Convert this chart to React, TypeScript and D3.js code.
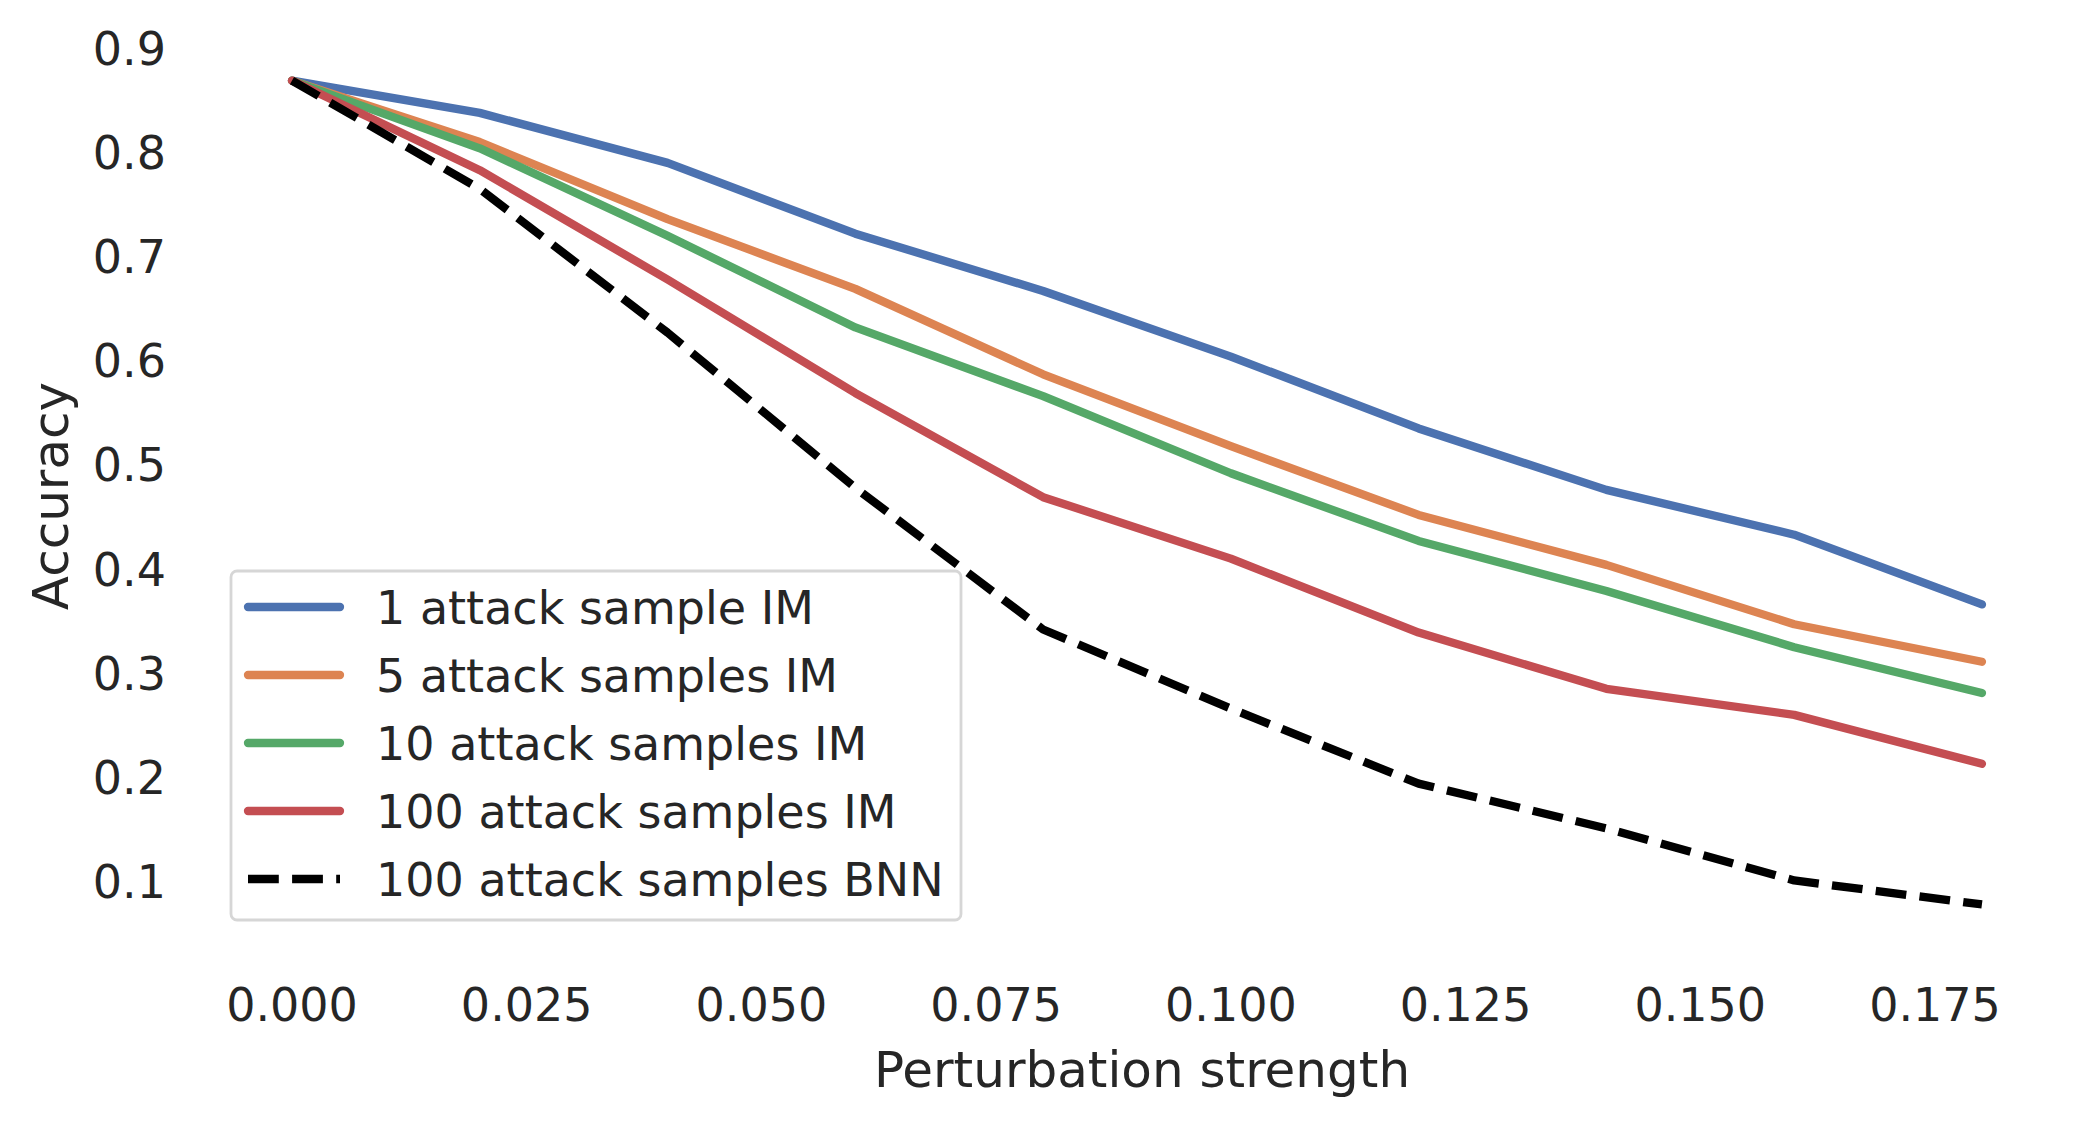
import React from "react";
import * as d3 from "d3";

const strengths: number[] = [0, 0.02, 0.04, 0.06, 0.08, 0.1, 0.12, 0.14, 0.16, 0.18];

const oneSampleIM: number[] = [0.869, 0.838, 0.79, 0.722, 0.667, 0.604, 0.535, 0.476, 0.433, 0.366];
const fiveSamplesIM: number[] = [0.869, 0.81, 0.736, 0.669, 0.587, 0.518, 0.452, 0.404, 0.347, 0.311];
const tenSamplesIM: number[] = [0.869, 0.804, 0.72, 0.632, 0.566, 0.492, 0.427, 0.379, 0.325, 0.281];
const hundredSamplesIM: number[] = [0.869, 0.783, 0.678, 0.569, 0.469, 0.41, 0.339, 0.285, 0.26, 0.213];
const hundredSamplesBNN: number[] = [0.869, 0.765, 0.627, 0.478, 0.342, 0.266, 0.194, 0.151, 0.101, 0.078];

const seriesNames: string[] = [
  "1 attack sample IM",
  "5 attack samples IM",
  "10 attack samples IM",
  "100 attack samples IM",
  "100 attack samples BNN",
];
const seriesColors: string[] = ["#4C72B0", "#DD8452", "#55A868", "#C44E52", "#000000"];
const seriesValues: number[][] = [oneSampleIM, fiveSamplesIM, tenSamplesIM, hundredSamplesIM, hundredSamplesBNN];

const xTicks: number[] = [0, 0.025, 0.05, 0.075, 0.1, 0.125, 0.15, 0.175];
const yTicks: number[] = [0.1, 0.2, 0.3, 0.4, 0.5, 0.6, 0.7, 0.8, 0.9];

const width = 2097;
const height = 1125;
const textColor = "#262626";
const font = "'DejaVu Sans', sans-serif";
const lineWidth = 8.3;

const App = (): React.JSX.Element => {
  const x = d3.scaleLinear([0, 0.175], [292, 1935]);
  const y = d3.scaleLinear([0.1, 0.9], [881.5, 48.3]);

  const line = d3
    .line<number>()
    .x((_d, i) => x(strengths[i]))
    .y((d) => y(d));

  // legend box
  const lg = { left: 231, top: 571, right: 961, bottom: 920, rowStart: 607, rowStep: 68 };

  return (
    <div style={{ position: "absolute", left: 0, top: 0 }}>
      <svg width={width} height={height} style={{ display: "block", background: "#fff" }} fontFamily={font}>
        {/* lines */}
        {seriesValues.map((vals, k) => {
          const dashed = k === 4;
          return (
            <path
              key={k}
              d={line(vals) as string}
              fill="none"
              stroke={seriesColors[k]}
              strokeWidth={lineWidth}
              strokeLinejoin="round"
              strokeLinecap={dashed ? "butt" : "round"}
              strokeDasharray={dashed ? "30.8 13.3" : undefined}
            />
          );
        })}

        {/* x tick labels */}
        <g fill={textColor} fontSize={46} textAnchor="middle">
          {xTicks.map((t) => (
            <text key={t} x={x(t)} y={1021}>
              {d3.format(".3f")(t)}
            </text>
          ))}
        </g>

        {/* y tick labels */}
        <g fill={textColor} fontSize={46} textAnchor="end">
          {yTicks.map((t) => (
            <text key={t} x={166} y={y(t)} dy="0.36em">
              {d3.format(".1f")(t)}
            </text>
          ))}
        </g>

        {/* axis labels */}
        <text x={1142} y={1087} fill={textColor} fontSize={50} textAnchor="middle">
          Perturbation strength
        </text>
        <text
          transform="translate(68,496) rotate(-90)"
          fill={textColor}
          fontSize={50}
          textAnchor="middle"
        >
          Accuracy
        </text>

        {/* legend */}
        <rect
          x={lg.left}
          y={lg.top}
          width={lg.right - lg.left}
          height={lg.bottom - lg.top}
          rx={6}
          fill="#ffffff"
          fillOpacity={0.8}
          stroke="#d6d6d6"
          strokeWidth={2.8}
        />
        {seriesNames.map((name, k) => {
          const cy = lg.rowStart + k * lg.rowStep;
          const dashed = k === 4;
          return (
            <g key={name}>
              <line
                x1={248}
                x2={340}
                y1={cy}
                y2={cy}
                stroke={seriesColors[k]}
                strokeWidth={lineWidth}
                strokeLinecap={dashed ? "butt" : "round"}
                strokeDasharray={dashed ? "30.8 13.3" : undefined}
              />
              <text x={376} y={cy + 17} fill={textColor} fontSize={46}>
                {name}
              </text>
            </g>
          );
        })}
      </svg>
    </div>
  );
};

export default App;
